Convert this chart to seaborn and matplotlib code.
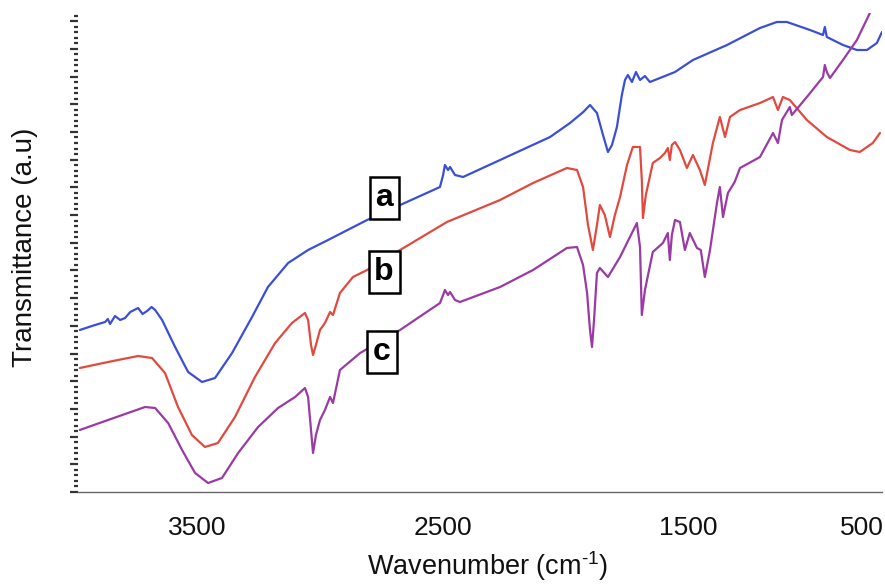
import numpy as np
import pandas as pd
import matplotlib
matplotlib.use("Agg")
import matplotlib.pyplot as plt
from matplotlib.ticker import MultipleLocator, FixedLocator, NullFormatter
import seaborn as sns

# ---- data (wavenumber cm-1, transmittance a.u.) ----
wn_a = [4005, 3937, 3892, 3880, 3870, 3848, 3825, 3803, 3780, 3745, 3725, 3705, 3685, 3669, 3638,
        3580, 3522, 3460, 3402, 3326, 3237, 3166, 3076, 2987, 2898, 2724, 2399, 2385, 2377, 2363,
        2354, 2332, 2296, 2131, 1908, 1819, 1760, 1730, 1699, 1672, 1650, 1632, 1610, 1588, 1574,
        1561, 1543, 1525, 1507, 1485, 1463, 1418, 1351, 1271, 1119, 972, 897, 852, 749, 691, 683,
        674, 602, 540, 495, 451, 428]
tr_a = [162, 167, 170, 173, 168, 176, 172, 174, 180, 184, 178, 181, 185, 182, 172,
        145, 120, 110, 114, 139, 175, 205, 229, 242, 252, 272, 305, 317, 327, 322,
        325, 317, 315, 332, 355, 369, 380, 387, 379, 357, 340, 347, 365, 397, 412,
        417, 410, 420, 412, 416, 410, 414, 420, 432, 447, 464, 470, 470, 462, 457, 465,
        455, 447, 442, 442, 449, 460]

wn_b = [4005, 3879, 3745, 3683, 3625, 3567, 3505, 3447, 3389, 3313, 3224, 3134, 3059, 3001, 2987,
        2974, 2965, 2952, 2934, 2912, 2889, 2876, 2845, 2787, 2724, 2577, 2368, 2131, 1984, 1833,
        1788, 1761, 1739, 1717, 1699, 1686, 1664, 1641, 1619, 1596, 1565, 1539, 1507, 1499, 1494,
        1481, 1450, 1418, 1396, 1383, 1374, 1365, 1351, 1329, 1298, 1271, 1240, 1218, 1182, 1151,
        1128, 1106, 1061, 972, 914, 892, 870, 839, 763, 674, 571, 527, 469, 437]
tr_b = [124, 130, 136, 134, 119, 85, 57, 45, 49, 75, 115, 149, 169, 179, 172,
        147, 137, 147, 162, 169, 180, 177, 199, 215, 222, 242, 270, 292, 309, 324,
        322, 305, 267, 242, 267, 287, 277, 255, 277, 295, 327, 345, 345, 312, 274,
        297, 329, 334, 339, 344, 332, 347, 350, 342, 324, 337, 322, 307, 349, 375,
        355, 375, 382, 389, 395, 382, 395, 392, 372, 355, 342, 340, 349, 359]

wn_c = [4005, 3879, 3714, 3669, 3611, 3549, 3491, 3433, 3371, 3299, 3210, 3121, 3045, 3001, 2987,
        2974, 2965, 2952, 2934, 2912, 2889, 2876, 2845, 2755, 2577, 2399, 2385, 2377, 2363, 2354,
        2332, 2310, 2131, 1984, 1833, 1788, 1761, 1743, 1730, 1721, 1712, 1699, 1686, 1650, 1596,
        1521, 1507, 1499, 1485, 1450, 1405, 1383, 1374, 1365, 1351, 1329, 1307, 1285, 1253, 1236,
        1218, 1195, 1164, 1151, 1137, 1115, 1085, 1061, 972, 914, 892, 874, 839, 830, 763,
        691, 683, 674, 660, 602, 540, 482]
tr_c = [62, 72, 85, 84, 69, 42, 19, 9, 14, 39, 65, 84, 95, 104, 95,
        62, 39, 57, 72, 82, 95, 89, 122, 139, 162, 189, 197, 202, 197, 200,
        192, 190, 205, 222, 244, 245, 227, 199, 162, 145, 172, 219, 224, 215, 235,
        269, 245, 177, 202, 240, 249, 259, 232, 257, 272, 270, 242, 259, 244, 242,
        215, 242, 289, 305, 275, 299, 310, 324, 335, 359, 349, 372, 385, 377, 395,
        415, 427, 420, 414, 432, 452, 479]

labels = ["a", "b", "c"]
label_wn = [2648, 2648, 2657]
label_tr = [294, 220, 140]

tick_pos = [3480, 2385, 1293, 518]
tick_lab = ["3500", "2500", "1500", "500"]

colors = ["#3b4fd6", "#e04a3f", "#9a3aa5"]

# ---- plotting ----
sns.set_theme(style="white")
plt.rcParams["font.family"] = ["Liberation Sans", "DejaVu Sans"]
plt.rcParams["mathtext.fontset"] = "custom"
plt.rcParams["mathtext.rm"] = "Liberation Sans"
plt.rcParams["mathtext.it"] = "Liberation Sans:italic"
plt.rcParams["mathtext.bf"] = "Liberation Sans:bold"

fig = plt.figure(figsize=(8.85, 5.84), dpi=100)
ax = fig.add_axes([78 / 885, 1 - 492 / 584, 804 / 885, 479 / 584])

for wn, tr, c in [(wn_a, tr_a, colors[0]), (wn_b, tr_b, colors[1]), (wn_c, tr_c, colors[2])]:
    df = pd.DataFrame({"wn": wn, "tr": tr})
    sns.lineplot(data=df, x="wn", y="tr", ax=ax, color=c, lw=1.6, sort=False,
                 estimator=None, legend=False)

ax.set_xlim(4013, 428)
ax.set_ylim(0, 479)

for s in ["top", "right", "left"]:
    ax.spines[s].set_visible(False)
ax.spines["bottom"].set_color("#666666")
ax.spines["bottom"].set_linewidth(1.0)

ax.xaxis.set_major_locator(FixedLocator([3500, 3000, 2500, 2000, 1500, 1000, 500]))
ax.xaxis.set_minor_locator(MultipleLocator(100))
ax.xaxis.set_major_formatter(NullFormatter())
ax.tick_params(axis="x", which="major", direction="inout", length=4, width=2.5, color="#333333")
ax.tick_params(axis="x", which="minor", direction="inout", length=3, width=2, color="#333333")

ax.yaxis.set_major_locator(MultipleLocator(27.7))
ax.yaxis.set_minor_locator(MultipleLocator(5.54))
ax.yaxis.set_major_formatter(NullFormatter())
ax.tick_params(axis="y", which="major", direction="out", length=6, width=1.6, color="#333333", left=True)
ax.tick_params(axis="y", which="minor", direction="out", length=3, width=1.6, color="#333333", left=True)

sec = ax.secondary_xaxis("bottom")
sec.set_xticks(tick_pos)
sec.set_xticklabels(tick_lab)
sec.tick_params(length=0, pad=17, labelsize=19, labelcolor="#111111")
sec.spines["bottom"].set_visible(False)

ax.set_xlabel(r"Wavenumber (cm$^{\text{-1}}$)", fontsize=19.5, color="#111111")
ax.xaxis.set_label_coords((488 - 78) / 804, -(566 - 492) / 479)
ax.xaxis.label.set_va("center")
ax.set_ylabel("Transmittance (a.u)", fontsize=20, color="#111111")
ax.yaxis.set_label_coords((25 - 78) / 804, (492 - 247) / 479)
ax.yaxis.label.set_va("center")

for lab, w, t in zip(labels, label_wn, label_tr):
    ax.text(w, t, lab, fontsize=23, fontweight="bold", ha="center", va="center", color="black",
            bbox=dict(boxstyle="square,pad=0.18", fc="white", ec="black", lw=1.8))

fig.savefig("out.png", dpi=100)
